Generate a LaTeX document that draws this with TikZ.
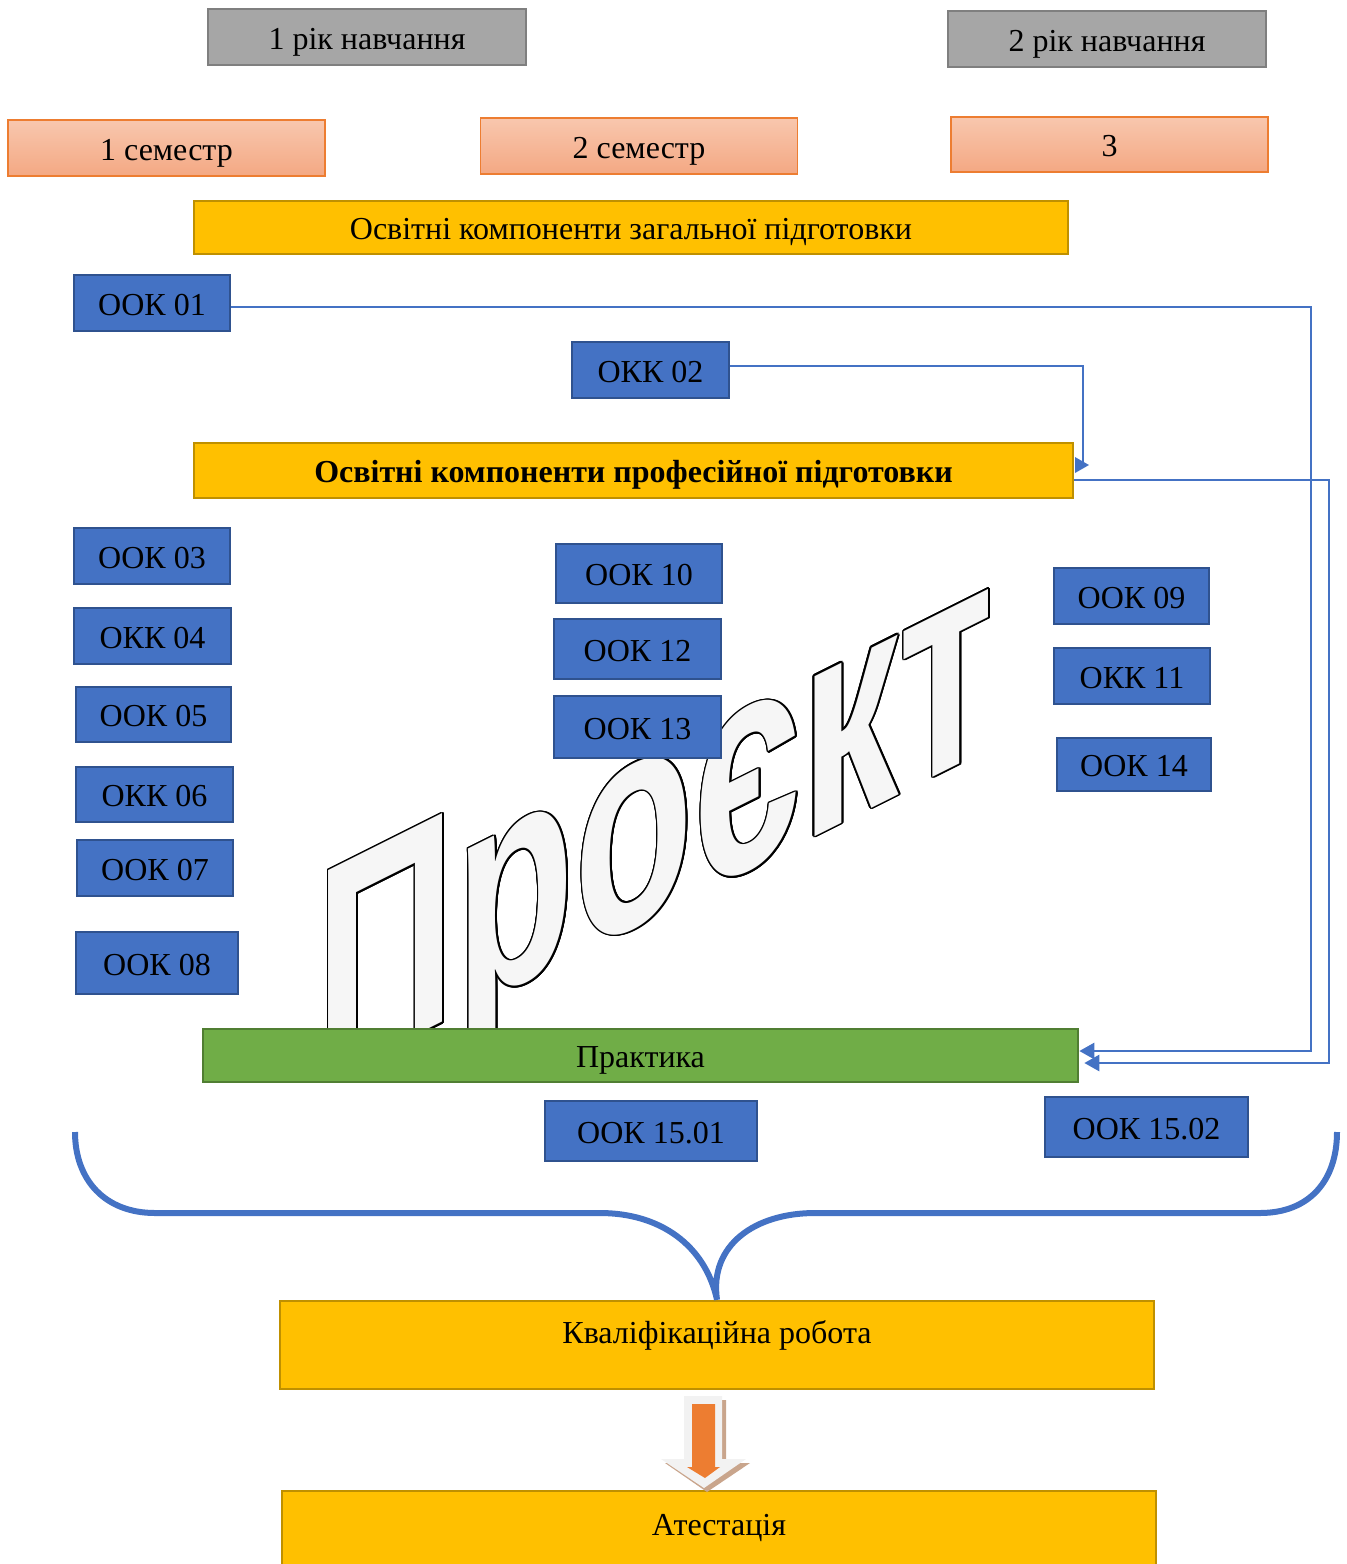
\documentclass[tikz,border=0pt]{standalone}
\usepackage{fontspec}
\setmainfont{Liberation Serif}
\newfontfamily\wmfont{Liberation Sans}
\usetikzlibrary{arrows.meta}
\usetikzlibrary{calc}

\definecolor{yrfill}{RGB}{166,166,166}
\definecolor{yrline}{RGB}{127,127,127}
\definecolor{semtop}{RGB}{248,199,174}
\definecolor{sembot}{RGB}{244,168,131}
\definecolor{semline}{RGB}{237,125,49}
\definecolor{ylfill}{RGB}{255,192,0}
\definecolor{ylline}{RGB}{191,144,0}
\definecolor{blfill}{RGB}{68,114,196}
\definecolor{blline}{RGB}{47,82,143}
\definecolor{grfill}{RGB}{112,173,71}
\definecolor{grline}{RGB}{80,126,50}
\definecolor{wmfill}{RGB}{246,246,246}
\definecolor{arrgray}{RGB}{242,242,242}
\definecolor{arrshadow}{RGB}{201,165,140}
\definecolor{arrorange}{RGB}{237,125,49}

\tikzset{
  box/.style={draw, line width=1.3pt, inner sep=0pt, text height=14pt, text depth=2pt, font=\fontsize{16}{19}\selectfont},
  yearbox/.style={box, draw=yrline, fill=yrfill, minimum width=159pt, minimum height=28pt},
  sembox/.style={box, draw=semline, line width=0.6pt, top color=semtop, bottom color=sembot, minimum width=158.5pt, minimum height=28pt},
  ylbox/.style={box, draw=ylline, fill=ylfill},
  okbox/.style={box, draw=blline, fill=blfill, minimum width=78pt, minimum height=28pt},
  prbox/.style={box, draw=grline, fill=grfill},
  conn/.style={draw=blfill, line width=1.3pt},
  tip/.style={-{Triangle[length=7.5pt,width=8pt]}},
  wmark/.style={anchor=base west, inner sep=0pt, yslant=0.5, xscale=0.643, font=\wmfont\bfseries\fontsize{151.5}{160}\selectfont}
}

\begin{document}
\begin{tikzpicture}[x=0.5pt,y=0.5pt,yscale=-1,xscale=1]
\clip (0,0) rectangle (1346,1564);

% Watermark
\coordinate (wm) at (315.5,1086);
\begin{scope}
\clip (0,0) rectangle (1346,1045);
\foreach \a in {0,20,...,340}
  \node[wmark, text=black] at ($(wm)+(\a:1.7)$) {Проєкт};
\node[wmark, text=wmfill] (wmtext) at (wm) {Проєкт};
\end{scope}

% Years and semesters
\node[yearbox] (year1) at (367,37) {1 рік навчання};
\node[yearbox] (year2) at (1107,39) {2 рік навчання};
\node[sembox] (sem1) at (166.5,148) {1 семестр};
\node[sembox] (sem2) at (639,146) {2 семестр};
\node[sembox, minimum height=27.5pt] (sem3) at (1109.5,144.5) {3};

% Blocks
\node[ylbox, minimum width=437pt, minimum height=26.5pt] (gen) at (631,227.5) {Освітні компоненти загальної підготовки};
\node[ylbox, minimum width=439.5pt, minimum height=27.5pt, font=\fontsize{16}{19}\selectfont\bfseries] (prof) at (633.5,470.5) {Освітні компоненти професійної підготовки};
\node[prbox, minimum width=437.5pt, minimum height=26.5pt] (prac) at (640.5,1055.5) {Практика};

% Components
\node[okbox] (ook01) at (152,303) {ООК 01};
\node[okbox, minimum width=78.5pt] (okk02) at (650.5,370) {ОКК 02};
\node[okbox] (ook03) at (152,556) {ООК 03};
\node[okbox, minimum width=78.5pt] (okk04) at (152.5,636) {ОКК 04};
\node[okbox, minimum width=77.5pt, minimum height=27.5pt] (ook05) at (153.5,714.5) {ООК 05};
\node[okbox, minimum width=78.5pt, minimum height=27.5pt] (okk06) at (154.5,794.5) {ОКК 06};
\node[okbox] (ook07) at (155,868) {ООК 07};
\node[okbox, minimum width=81pt, minimum height=31pt] (ook08) at (157,963) {ООК 08};
\node[okbox, minimum width=83pt, minimum height=29.5pt] (ook10) at (639,573.5) {ООК 10};
\node[okbox, minimum width=83.5pt, minimum height=30pt] (ook12) at (637.5,649) {ООК 12};
\node[okbox, minimum width=83.5pt, minimum height=31pt] (ook13) at (637.5,727) {ООК 13};
\node[okbox, minimum width=77.5pt] (ook09) at (1131.5,596) {ООК 09};
\node[okbox] (okk11) at (1132,676) {ОКК 11};
\node[okbox, minimum width=77pt, minimum height=26.5pt] (ook14) at (1134,764.5) {ООК 14};
\node[okbox, minimum width=106pt, minimum height=30pt] (ook1501) at (651,1131) {ООК 15.01};
\node[okbox, minimum width=101.5pt, minimum height=30pt] (ook1502) at (1146.5,1127) {ООК 15.02};

% Final blocks
\node[ylbox, minimum width=437pt, inner ysep=0pt, text height=21pt, text depth=23pt] (qual) at (717,1345) {Кваліфікаційна робота};
\node[ylbox, minimum width=437pt, inner ysep=0pt, text height=22pt, text depth=33pt] (atest) at (719,1546) {Атестація};

% Connectors
\coordinate (b1) at (1311,0);
\coordinate (b2) at (1329,0);
\coordinate (b3) at (1083,462);
\coordinate (pk1) at ([yshift=-2.25pt]prac.east);
\coordinate (pk2) at ([xshift=2.5pt,yshift=3.75pt]prac.east);
\draw[conn, tip] ([yshift=2pt]ook01.east) -| (b1 |- pk1) -- (pk1);
\draw[conn, tip] ([yshift=4.75pt]prof.east) -| (b2 |- pk2) -- (pk2);
\draw[conn] ([yshift=-2pt]okk02.east) -| (b3);
\fill[blfill] ($(b3)+(-8,-5)$) -- ($(b3)+(6,3)$) -- ($(b3)+(-8,11)$) -- cycle;

% Brace
\draw[blfill, line width=3pt] (75,1132) .. controls (75,1180) and (105,1213) .. (155,1213) -- (600,1213)
  .. controls (660,1213) and (705,1245) .. (qual.north) .. controls (709,1245) and (755,1213) .. (815,1213)
  -- (1260,1213) .. controls (1310,1213) and (1337,1180) .. (1337,1132);

% Arrow between blocks
\fill[arrshadow] (688,1400) -- (726,1400) -- (726,1463) -- (750,1463) -- (707,1492) -- (665,1463) -- (688,1463) -- cycle;
\fill[arrgray] (684,1396) -- (722,1396) -- (722,1459) -- (746,1459) -- (704,1488) -- (661,1459) -- (684,1459) -- cycle;
\fill[arrorange] (692,1404) -- (715,1404) -- (715,1467) -- (720,1467) -- (705,1478) -- (687,1467) -- (692,1467) -- cycle;

\end{tikzpicture}
\end{document}
